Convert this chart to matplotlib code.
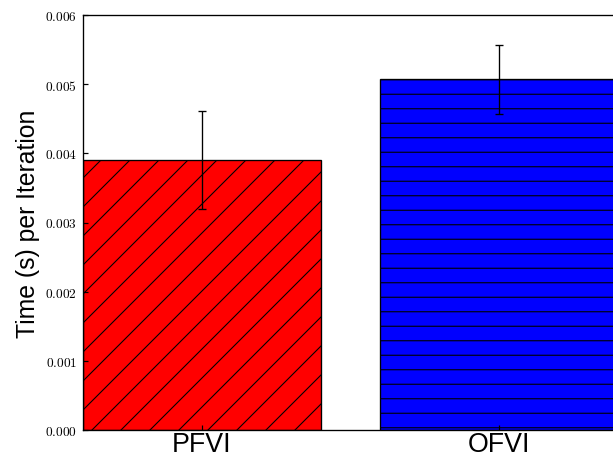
import numpy as np
import matplotlib
matplotlib.use('Agg')
import matplotlib.pyplot as plt
from matplotlib.ticker import FuncFormatter, MultipleLocator

# data
methods = ['PFVI', 'OFVI']
times = [0.00390, 0.00507]
errors = [0.00071, 0.00050]
hatches = ['/', '-']
colors = ['#ff0000', '#0000ff']

plt.rcParams['hatch.linewidth'] = 0.9
plt.rcParams['mathtext.fontset'] = 'cm'

dpi = 87.5
fig = plt.figure(figsize=(613 / dpi, 457 / dpi), dpi=dpi)
# axes runs a bit past the right edge of the figure, like the reference
ax = fig.add_axes([83 / 613, 1 - 431 / 457, 535 / 613, 415 / 457])

x = np.arange(len(methods))
bars = ax.bar(x, times, width=0.8, color=colors, edgecolor='black',
              linewidth=1.1, yerr=errors, ecolor='black',
              error_kw=dict(elinewidth=1.1, capsize=3, capthick=1.1))
for b, h in zip(bars, hatches):
    b.set_hatch(h)

ax.set_xlim(-0.4, 1.4)
ax.set_ylim(0, 0.006)
ax.yaxis.set_major_locator(MultipleLocator(0.001))
ax.yaxis.set_major_formatter(FuncFormatter(lambda v, p: r'$%.3f$' % v))
ax.set_xticks(x)
ax.set_xticklabels(methods, fontsize=22, family='Liberation Sans')
ax.tick_params(axis='y', direction='in', length=4, width=1, labelsize=11, pad=5)
ax.tick_params(axis='x', direction='in', length=4, width=1, pad=1)
ax.tick_params(top=False, right=False)
for s in ax.spines.values():
    s.set_linewidth(1.1)

ax.set_ylabel('Time (s) per Iteration', fontsize=20.4, family='Liberation Sans', labelpad=4)

fig.savefig('out.png', dpi=dpi)
